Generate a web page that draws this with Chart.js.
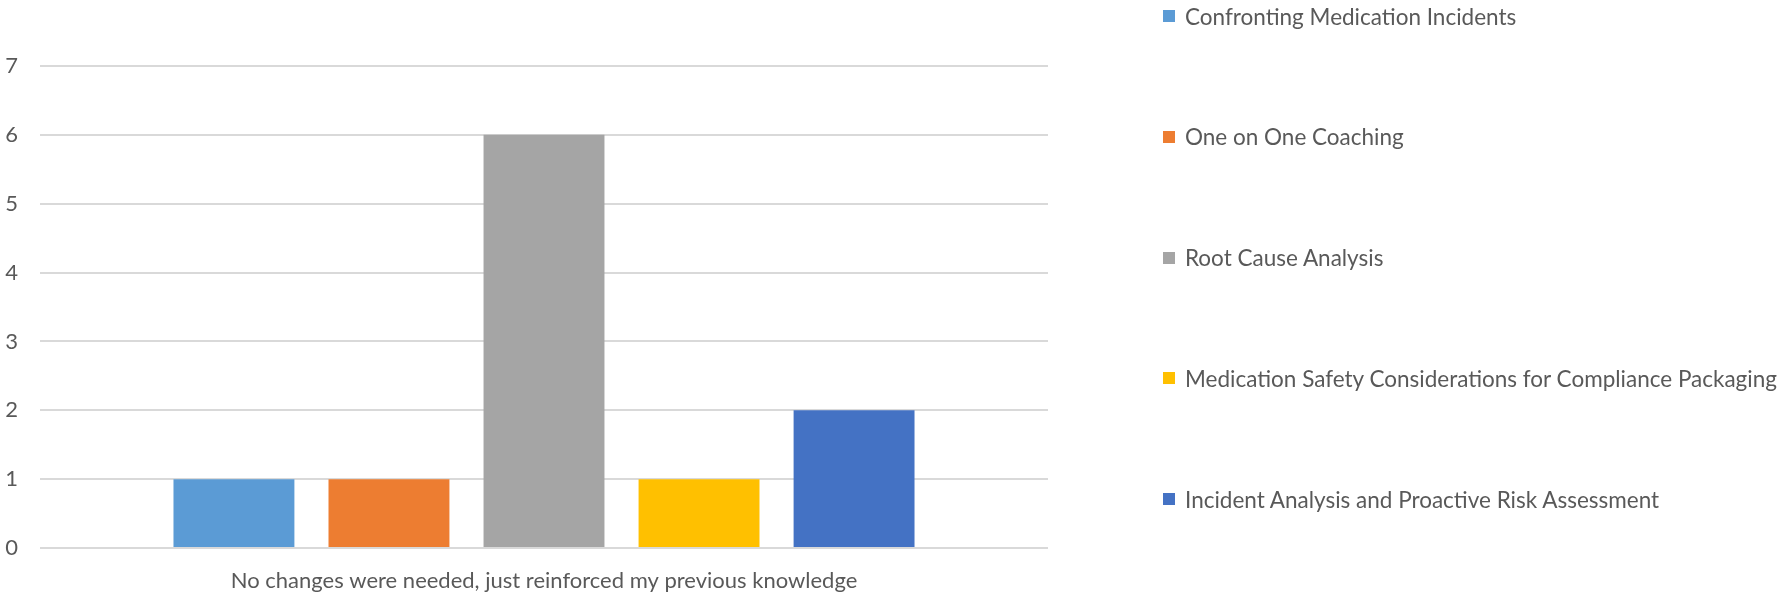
<!DOCTYPE html>
<html>
<head>
<meta charset="utf-8">
<script src="https://cdn.jsdelivr.net/npm/chart.js@4.4.0/dist/chart.umd.min.js"></script>
<style>
  html, body { margin: 0; padding: 0; background: #fff; overflow: hidden; }
  #wrap { position: relative; width: 1787px; height: 596px; }
  #legend { position: absolute; left: 1163px; top: 0; margin: 0; padding: 0; list-style: none;
            font-family: Lato, "Open Sans", sans-serif; font-size: 22.5px; color: #595959; }
  #legend li { position: absolute; left: 0; white-space: nowrap; display: flex; align-items: center; height: 26px; }
  #legend .box { display: inline-block; width: 12px; height: 12px; margin-right: 10px; }
</style>
</head>
<body>
<div id="wrap">
  <canvas id="barchart" width="1787" height="596"></canvas>
  <ul id="legend"></ul>
</div>
<script>
let categories = ['No changes were needed, just reinforced my previous knowledge'];

let seriesNames = [
   'Confronting Medication Incidents',
   'One on One Coaching',
   'Root Cause Analysis',
   'Medication Safety Considerations for Compliance Packaging',
   'Incident Analysis and Proactive Risk Assessment'
];

let seriesValues = [[1], [1], [6], [1], [2]];

let seriesColors = ['#5B9BD5', '#ED7D31', '#A5A5A5', '#FFC000', '#4472C4'];

let yMax = 7;
let yStep = 1;

let textColor = '#595959';
let fontFamily = 'Lato, "Open Sans", sans-serif';

let datasets = [];
for (let i = 0; i < seriesNames.length; i++) {
   datasets.push({
      label: seriesNames[i],
      data: seriesValues[i],
      backgroundColor: seriesColors[i],
      borderWidth: 0,
      categoryPercentage: 0.769,
      barPercentage: 0.78
   });
}

// html legend, spaced out like the original
const htmlLegend = {
   id: 'htmlLegend',
   afterUpdate(chart) {
      const ul = document.getElementById('legend');
      ul.innerHTML = '';
      const items = chart.options.plugins.legend.labels.generateLabels(chart);
      items.forEach((item, i) => {
         const li = document.createElement('li');
         li.style.top = (3 + i * 120.8) + 'px';
         const box = document.createElement('span');
         box.className = 'box';
         box.style.background = item.fillStyle;
         li.appendChild(box);
         li.appendChild(document.createTextNode(item.text));
         ul.appendChild(li);
      });
   }
};

new Chart(document.getElementById('barchart'), {
   type: 'bar',
   data: {
      labels: categories,
      datasets: datasets
   },
   options: {
      responsive: false,
      animation: false,
      layout: {
         padding: { top: 66, left: 0, right: 739, bottom: 0 }
      },
      plugins: {
         legend: { display: false },
         tooltip: { enabled: false }
      },
      scales: {
         x: {
            grid: { display: false, drawTicks: false },
            border: { display: false },
            ticks: {
               color: textColor,
               padding: 20,
               font: { family: fontFamily, size: 22 }
            },
            afterFit: function(scale) { scale.height = 48; }
         },
         y: {
            min: 0,
            max: yMax,
            grid: { color: '#D9D9D9', lineWidth: 2, drawTicks: false },
            border: { display: false },
            ticks: {
               stepSize: yStep,
               color: textColor,
               padding: 22,
               font: { family: fontFamily, size: 22 }
            },
            afterFit: function(scale) { scale.width = 40; }
         }
      }
   },
   plugins: [htmlLegend]
});
</script>
</body>
</html>
